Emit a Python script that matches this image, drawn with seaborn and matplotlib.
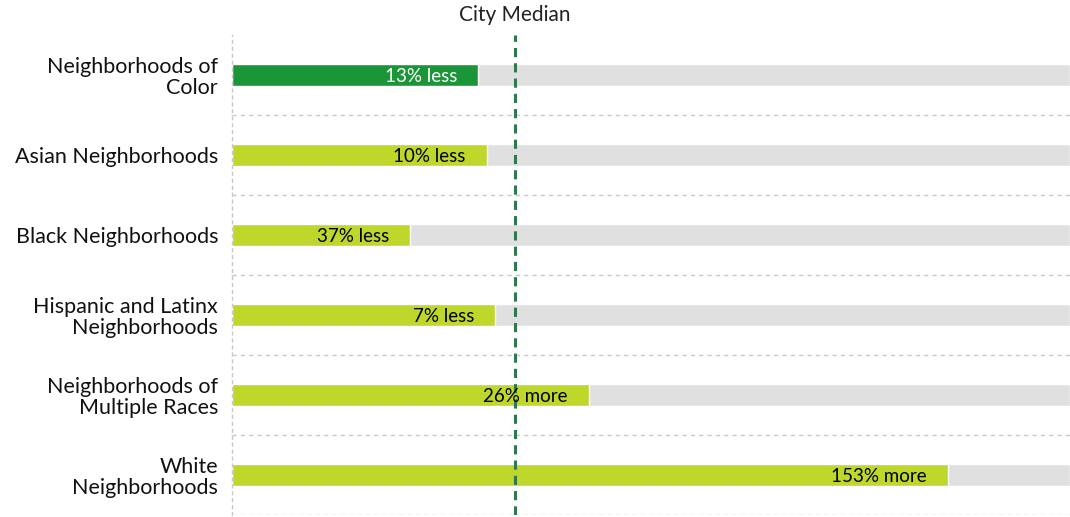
import matplotlib
matplotlib.use("Agg")
import matplotlib.pyplot as plt
import seaborn as sns
import pandas as pd

# data: ratio to city median
categories = ["Neighborhoods of\nColor", "Asian Neighborhoods", "Black Neighborhoods",
              "Hispanic and Latinx\nNeighborhoods", "Neighborhoods of\nMultiple Races",
              "White\nNeighborhoods"]
ratios = [0.87, 0.90, 0.63, 0.93, 1.26, 2.53]
bar_labels = ["13% less", "10% less", "37% less", "7% less", "26% more", "153% more"]
bar_colors = ["#1a9639", "#bfd62a", "#bfd62a", "#bfd62a", "#bfd62a", "#bfd62a"]
label_colors = ["white", "black", "black", "black", "black", "black"]
median = 1.0
x_max = 2.961

df = pd.DataFrame({"cat": categories, "ratio": ratios, "full": [x_max] * len(categories)})

sns.set_style("white")
plt.rcParams["font.family"] = ["Lato", "DejaVu Sans"]

fig = plt.figure(figsize=(10.7, 5.17), dpi=100)
ax = fig.add_axes([232 / 1070, 2 / 517, 1 - 232 / 1070, 480 / 517])

# gray background bars
sns.barplot(data=df, x="full", y="cat", orient="h", color="#e0e0e0", width=0.275,
            ax=ax, saturation=1, zorder=1)
# value bars
sns.barplot(data=df, x="ratio", y="cat", hue="cat", orient="h", palette=bar_colors,
            width=0.275, ax=ax, saturation=1, legend=False, zorder=2)

for i, (v, lab, c) in enumerate(zip(ratios, bar_labels, label_colors)):
    ax.text(v - 0.075, i + 0.02, lab, ha="right", va="center", fontsize=13.5, color=c, zorder=5)

# row separators
for yy in [0.5, 1.5, 2.5, 3.5, 4.5, 5.5]:
    ax.axhline(yy, color="#c8c8c8", lw=1, ls=(0, (3, 3)), zorder=0)

ax.axvline(median, color="#2e7a4e", lw=2.2, ls=(0, (3, 2)), zorder=4)
ax.text(median, -0.62, "City Median", ha="center", va="bottom", fontsize=15,
        color="#222222", clip_on=False)

ax.set_xlim(0, x_max)
ax.set_ylim(5.5, -0.5)
ax.set_xlabel("")
ax.set_ylabel("")
ax.set_xticks([])
ax.tick_params(axis="y", length=0, pad=10, labelsize=15.5, labelcolor="#111111")
for lab in ax.get_yticklabels():
    lab.set_horizontalalignment("right")
    lab.set_multialignment("right")
    lab.set_linespacing(1.05)
for s in ["top", "right", "bottom"]:
    ax.spines[s].set_visible(False)
ax.spines["left"].set_color("#c8c8c8")
ax.spines["left"].set_linestyle((0, (2, 3)))
ax.spines["left"].set_linewidth(1)

fig.savefig("out.png", dpi=100)
